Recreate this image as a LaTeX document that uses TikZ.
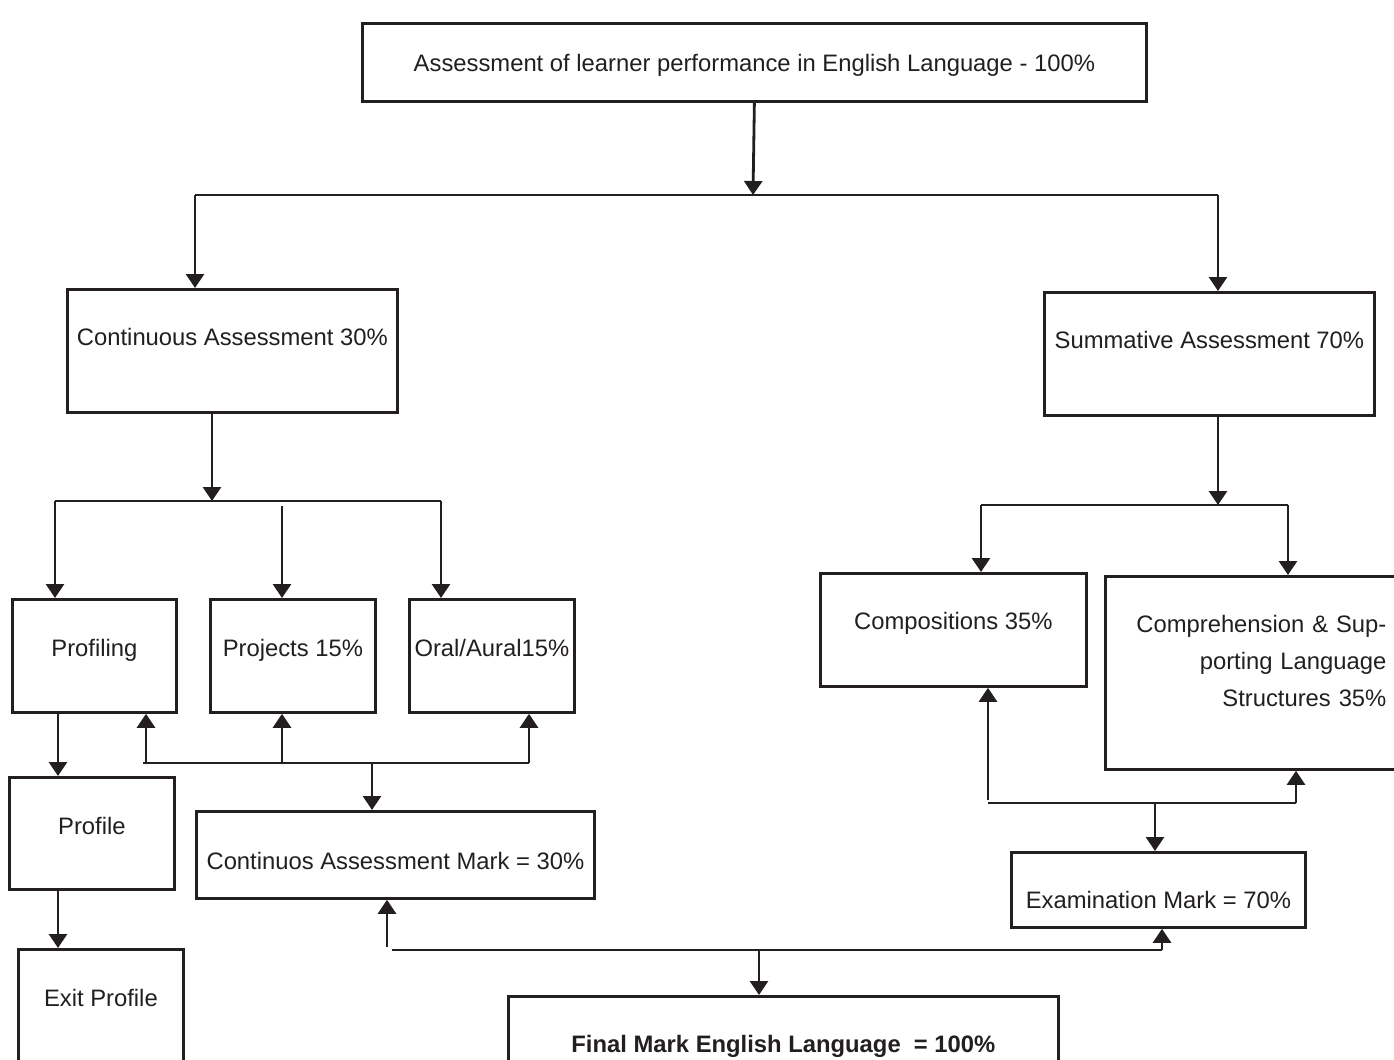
\documentclass[tikz,border=0pt]{standalone}
\usepackage{fontspec}
\setmainfont{Liberation Sans}
\usepackage{xcolor}
\definecolor{inkdark}{HTML}{231F20}
\usetikzlibrary{arrows.meta}

\begin{document}
\begin{tikzpicture}[
    x=0.5pt, y=-0.5pt,
    box/.style={draw=inkdark, line width=1.4pt, anchor=north west,
                inner xsep=0pt, inner ysep=0pt, text=inkdark,
                font=\fontsize{11.9}{18.5}\selectfont},
    arr/.style={draw=inkdark, line width=1.4pt, -{Triangle[width=9pt,length=7pt]}},
    bus/.style={draw=inkdark, line width=1.4pt},
  ]
  \useasboundingbox (0,0) rectangle (1394,1060);
  \fill[white] (0,0) rectangle (1394,1060);
  \clip (0,0) rectangle (1394,1060);

  % boxes, 1 unit = 1 px of the sheet
  \node[box, minimum width=392pt, text height=24pt, text depth=15pt] (top) at (361,22)
    {Assessment of learner performance in English Language - 100\%};
  \node[box, minimum width=165pt, text height=28pt, text depth=33.5pt] (ca) at (66,288)
    {Continuous Assessment 30\%};
  \node[box, minimum width=165pt, text height=28pt, text depth=33.5pt] (sa) at (1043,291)
    {Summative Assessment 70\%};

  \node[box, minimum width=82pt, text height=28.5pt, text depth=28pt] (profiling) at (11,598) {Profiling};
  \node[box, minimum width=82.5pt, text height=28.5pt, text depth=28pt] (projects) at (209,598) {Projects 15\%};
  \node[box, minimum width=82.5pt, text height=28.5pt, text depth=28pt] (oral) at (408,598) {Oral/Aural15\%};
  \node[box, minimum width=82.5pt, text height=28.5pt, text depth=27.5pt] (profile) at (8,776) {Profile};
  \node[box, minimum width=82.5pt, text height=28.5pt, text depth=35pt] (exit) at (17,948) {Exit Profile};
  \node[box, minimum width=199pt, text height=29pt, text depth=14.5pt] (cam) at (195,810)
    {Continuos Assessment Mark = 30\%};

  \node[box, minimum width=133pt, text height=28pt, text depth=28.5pt] (comp) at (819,572)
    {Compositions 35\%};
  \node[box, align=right, text width=135.5pt, inner xsep=5pt, text height=28pt, text depth=68.5pt]
    (compr) at (1104,575) {Comprehension \& Sup-\\porting Language\\Structures 35\%};
  \node[box, minimum width=147pt, text height=28pt, text depth=9.5pt] (exam) at (1010,851)
    {Examination Mark = 70\%};
  \node[box, minimum width=275pt, text height=28pt, text depth=12pt] (final) at (507,995)
    {\bfseries Final Mark English Language\ \ = 100\%};

  % top split
  \coordinate (b1) at (753,195);
  \coordinate (b1l) at (195,195);
  \coordinate (b1r) at (1218,195);
  \draw[arr] (top.south) -- (b1);
  \draw[bus] (b1l) -- (b1r);
  \draw[arr] (b1l) -- (b1l |- ca.north);
  \draw[arr] (b1r) -- (b1r |- sa.north);

  % continuous assessment split
  \coordinate (c1) at (212,501);
  \coordinate (c1l) at (55,501);
  \coordinate (c1m) at (282,506);
  \coordinate (c1r) at (441,501);
  \draw[arr] (c1 |- ca.south) -- (c1);
  \draw[bus] (c1l) -- (c1r);
  \draw[arr] (c1l) -- (c1l |- profiling.north);
  \draw[arr] (c1m) -- (c1m |- projects.north);
  \draw[arr] (c1r) -- (c1r |- oral.north);

  % profile column
  \coordinate (pcol) at (58,0);
  \draw[arr] (pcol |- profiling.south) -- (pcol |- profile.north);
  \draw[arr] (pcol |- profile.south) -- (pcol |- exit.north);

  % into the CA mark
  \coordinate (u1a) at (146,763);
  \coordinate (u1b) at (282,763);
  \coordinate (u1m) at (372,763);
  \coordinate (u1c) at (529,763);
  \draw[bus] ([xshift=-1.5pt]u1a) -- (u1c);
  \draw[arr] (u1a) -- (u1a |- profiling.south);
  \draw[arr] (u1b) -- (u1b |- projects.south);
  \draw[arr] (u1c) -- (u1c |- oral.south);
  \draw[arr] (u1m) -- (u1m |- cam.north);

  % summative split
  \coordinate (s1) at (1218,505);
  \coordinate (s1l) at (981,505);
  \coordinate (s1r) at (1288,505);
  \draw[arr] (s1 |- sa.south) -- (s1);
  \draw[bus] (s1l) -- (s1r);
  \draw[arr] (s1l) -- (s1l |- comp.north);
  \draw[arr] (s1r) -- (s1r |- compr.north);

  % into the examination mark
  \coordinate (e1a) at (988,803);
  \coordinate (e1m) at (1155,803);
  \coordinate (e1b) at (1296,803);
  \draw[bus] (e1a) -- (e1b);
  \draw[arr] ([yshift=1.5pt]e1a) -- (e1a |- comp.south);
  \draw[arr] (e1b) -- (e1b |- compr.south);
  \draw[arr] (e1m) -- (e1m |- exam.north);

  % final mark
  \coordinate (f1a) at (387,950);
  \coordinate (f1m) at (759,950);
  \coordinate (f1b) at (1162,950);
  \draw[bus] ([xshift=2.5pt]f1a) -- (f1b);
  \draw[arr] ([yshift=1.5pt]f1a) -- (f1a |- cam.south);
  \draw[arr] (f1b) -- (f1b |- exam.south);
  \draw[arr] (f1m) -- (f1m |- final.north);
\end{tikzpicture}
\end{document}
